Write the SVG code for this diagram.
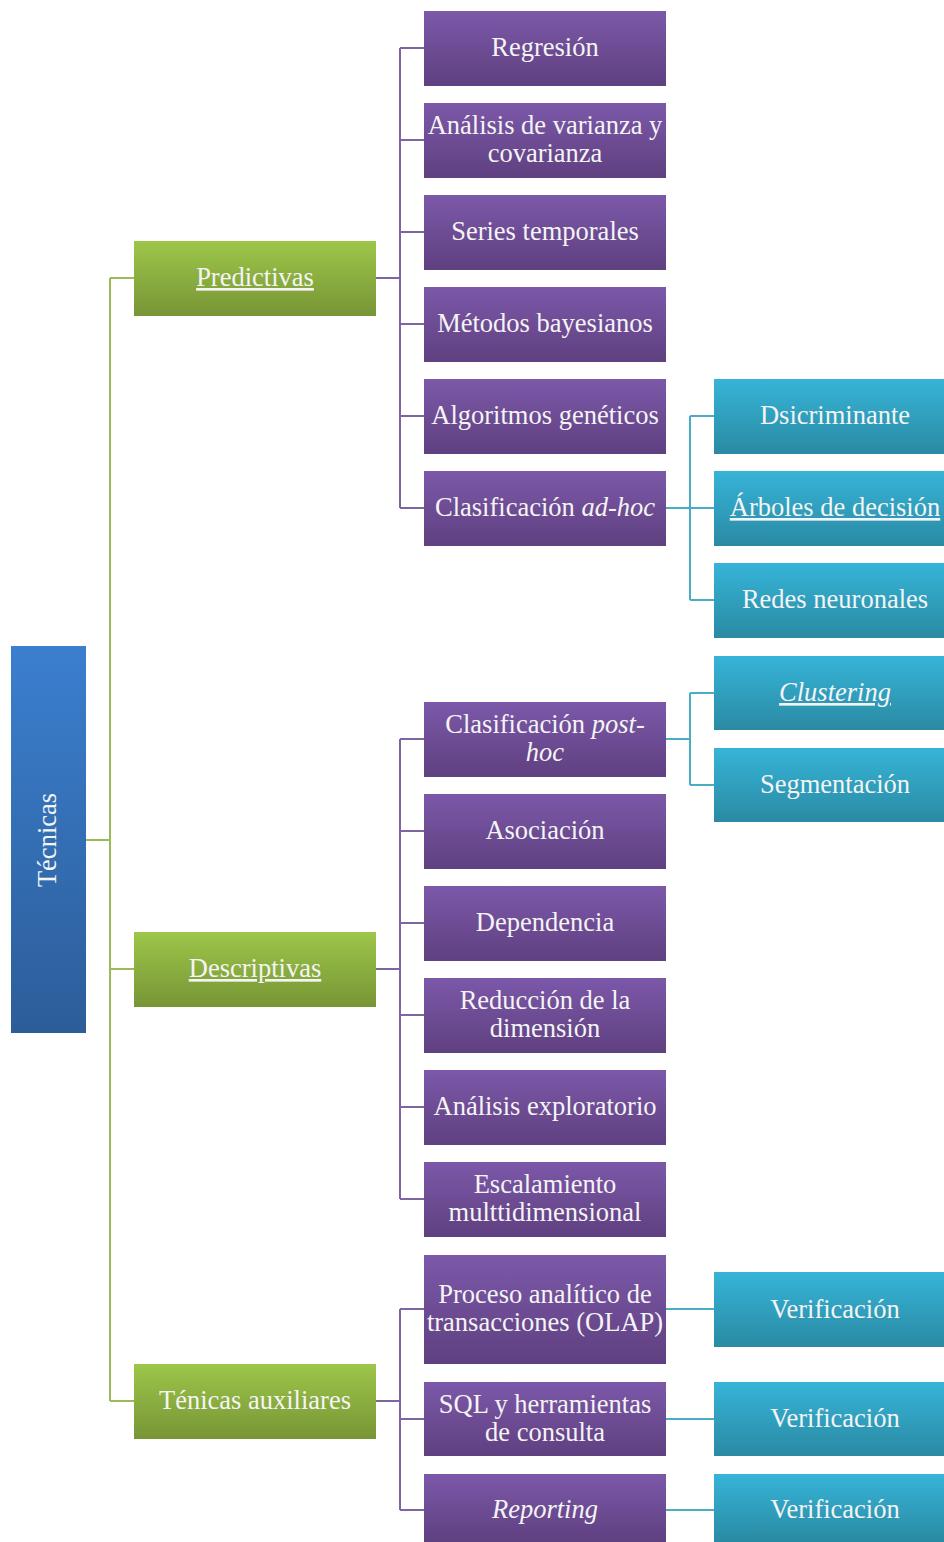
<svg xmlns="http://www.w3.org/2000/svg" width="944" height="1542" viewBox="0 0 944 1542">
<defs>
<linearGradient id="gBlueRoot" x1="0" y1="0" x2="0" y2="1"><stop offset="0" stop-color="#3b7fcf"/><stop offset="1" stop-color="#2c5d99"/></linearGradient>
<linearGradient id="gGreen" x1="0" y1="0" x2="0" y2="1"><stop offset="0" stop-color="#9dc649"/><stop offset="1" stop-color="#779536"/></linearGradient>
<linearGradient id="gPurple" x1="0" y1="0" x2="0" y2="1"><stop offset="0" stop-color="#7c58a9"/><stop offset="1" stop-color="#5f4080"/></linearGradient>
<linearGradient id="gCyan" x1="0" y1="0" x2="0" y2="1"><stop offset="0" stop-color="#36b4d8"/><stop offset="1" stop-color="#2a8aa3"/></linearGradient>
</defs>
<style>
text{font-family:'Liberation Serif','DejaVu Serif',serif;font-size:26.5px;fill:#f4f4f4;text-anchor:middle}
.u{text-decoration:underline}
.i{font-style:italic}
.cg{fill:none;stroke:#9bbb59;stroke-width:2}
.cp{fill:none;stroke:#8064a2;stroke-width:2}
.cc{fill:none;stroke:#4bacc6;stroke-width:2}
.root{fill:url(#gBlueRoot)}
.gr{fill:url(#gGreen)}
.pu{fill:url(#gPurple)}
.cy{fill:url(#gCyan)}
</style>
<rect width="944" height="1542" fill="#ffffff"/>
<g id="connectors">
<path class="cg" d="M86 840H110M110 278V1401M110 278H134M110 969H134M110 1401H134"/>
<path class="cp" d="M376 278H400M400 48V508M400 48H424M400 140H424M400 232H424M400 324H424M400 416H424M400 508H424"/>
<path class="cp" d="M376 969H400M400 739V1199M400 739H424M400 831H424M400 923H424M400 1015H424M400 1107H424M400 1199H424"/>
<path class="cp" d="M376 1401H400M400 1309V1510M400 1309H424M400 1419H424M400 1510H424"/>
<path class="cc" d="M666 508H690M690 416V600M690 416H714M690 508H714M690 600H714"/>
<path class="cc" d="M666 739H690M690 693V785M690 693H714M690 785H714"/>
<path class="cc" d="M666 1309H714M666 1419H714M666 1510H714"/>
</g>
<g id="n-tecnicas"><rect class="root" x="11" y="646" width="75" height="387"/><text transform="translate(56 840) rotate(-90)">Técnicas</text></g>
<g id="n-predictivas"><rect class="gr" x="134" y="241" width="242" height="75"/><text class="u" x="255" y="286">Predictivas</text></g>
<g id="n-descriptivas"><rect class="gr" x="134" y="932" width="242" height="75"/><text class="u" x="255" y="977">Descriptivas</text></g>
<g id="n-auxiliares"><rect class="gr" x="134" y="1364" width="242" height="75"/><text x="255" y="1409">Ténicas auxiliares</text></g>
<g id="n-regresion"><rect class="pu" x="424" y="11" width="242" height="75"/><text x="545" y="56">Regresión</text></g>
<g id="n-varianza"><rect class="pu" x="424" y="103" width="242" height="75"/><text x="545" y="133.5">Análisis de varianza y</text><text x="545" y="161.5">covarianza</text></g>
<g id="n-series"><rect class="pu" x="424" y="195" width="242" height="75"/><text x="545" y="240">Series temporales</text></g>
<g id="n-bayesianos"><rect class="pu" x="424" y="287" width="242" height="75"/><text x="545" y="332">Métodos bayesianos</text></g>
<g id="n-geneticos"><rect class="pu" x="424" y="379" width="242" height="75"/><text x="545" y="424">Algoritmos genéticos</text></g>
<g id="n-adhoc"><rect class="pu" x="424" y="471" width="242" height="75"/><text x="545" y="516">Clasificación <tspan class="i">ad-hoc</tspan></text></g>
<g id="n-discriminante"><rect class="cy" x="714" y="379" width="230" height="75"/><text x="835" y="424">Dsicriminante</text></g>
<g id="n-arboles"><rect class="cy" x="714" y="471" width="230" height="75"/><text class="u" x="835" y="516">Árboles de decisión</text></g>
<g id="n-redes"><rect class="cy" x="714" y="563" width="230" height="75"/><text x="835" y="608">Redes neuronales</text></g>
<g id="n-posthoc"><rect class="pu" x="424" y="702" width="242" height="75"/><text x="545" y="732.5">Clasificación <tspan class="i">post-</tspan></text><text class="i" x="545" y="760.5">hoc</text></g>
<g id="n-asociacion"><rect class="pu" x="424" y="794" width="242" height="75"/><text x="545" y="839">Asociación</text></g>
<g id="n-dependencia"><rect class="pu" x="424" y="886" width="242" height="75"/><text x="545" y="931">Dependencia</text></g>
<g id="n-reduccion"><rect class="pu" x="424" y="978" width="242" height="75"/><text x="545" y="1008.5">Reducción de la</text><text x="545" y="1036.5">dimensión</text></g>
<g id="n-exploratorio"><rect class="pu" x="424" y="1070" width="242" height="75"/><text x="545" y="1115">Análisis exploratorio</text></g>
<g id="n-escalamiento"><rect class="pu" x="424" y="1162" width="242" height="75"/><text x="545" y="1192.5">Escalamiento</text><text x="545" y="1220.5">multtidimensional</text></g>
<g id="n-clustering"><rect class="cy" x="714" y="656" width="230" height="74"/><text class="u i" x="835" y="701">Clustering</text></g>
<g id="n-segmentacion"><rect class="cy" x="714" y="748" width="230" height="74"/><text x="835" y="793">Segmentación</text></g>
<g id="n-olap"><rect class="pu" x="424" y="1255" width="242" height="109"/><text x="545" y="1303">Proceso analítico de</text><text x="545" y="1331">transacciones (OLAP)</text></g>
<g id="n-sql"><rect class="pu" x="424" y="1382" width="242" height="74"/><text x="545" y="1413">SQL y herramientas</text><text x="545" y="1441">de consulta</text></g>
<g id="n-reporting"><rect class="pu" x="424" y="1474" width="242" height="68"/><text class="i" x="545" y="1518">Reporting</text></g>
<g id="n-verif1"><rect class="cy" x="714" y="1272" width="230" height="75"/><text x="835" y="1318">Verificación</text></g>
<g id="n-verif2"><rect class="cy" x="714" y="1382" width="230" height="74"/><text x="835" y="1427">Verificación</text></g>
<g id="n-verif3"><rect class="cy" x="714" y="1474" width="230" height="68"/><text x="835" y="1518">Verificación</text></g>
</svg>
